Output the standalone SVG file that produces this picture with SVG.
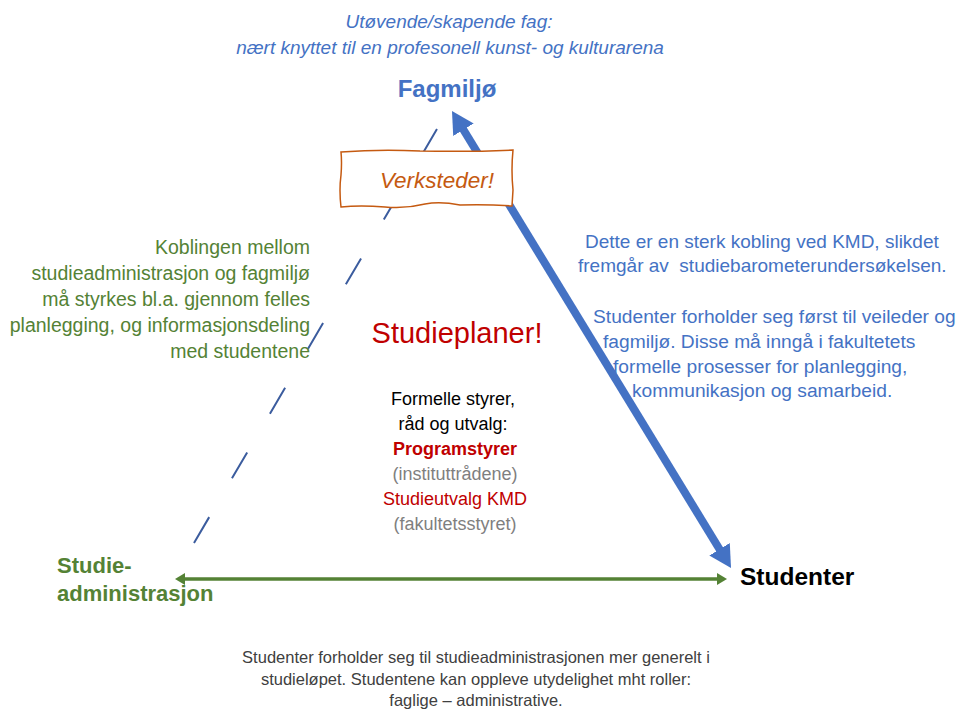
<svg xmlns="http://www.w3.org/2000/svg" width="968" height="709" viewBox="0 0 968 709">
<style>
  text { font-family: "Liberation Sans", Arial, sans-serif; }
  .blue { fill: #4472C4; }
  .green { fill: #548235; }
  .red { fill: #C00000; }
  .grey { fill: #7F7F7F; }
  .dark { fill: #404040; }
  .it { font-style: italic; }
  .b { font-weight: bold; }
  .mid { text-anchor: middle; }
  .end { text-anchor: end; }
</style>
<defs>
  <marker id="blueHead" markerUnits="userSpaceOnUse" viewBox="0 0 22 24" markerWidth="22" markerHeight="24" refX="12" refY="12" orient="auto-start-reverse">
    <path d="M0,0 L22,12 L0,24 z" fill="#4472C4"/>
  </marker>
  <marker id="greenHead" markerUnits="userSpaceOnUse" viewBox="0 0 10 12" markerWidth="10" markerHeight="12" refX="6" refY="6" orient="auto-start-reverse">
    <path d="M0,0 L10,6 L0,12 z" fill="#548235"/>
  </marker>
</defs>
<rect width="968" height="709" fill="#ffffff"/>

<g id="connectors">
  <line id="dashed-admin-fag" x1="194" y1="543" x2="437" y2="129" stroke="#3B5C9E" stroke-width="2" stroke-dasharray="30 45"/>
  <line id="fag-studenter" x1="457.2" y1="119.5" x2="725.8" y2="559.5" stroke="#4472C4" stroke-width="8" marker-start="url(#blueHead)" marker-end="url(#blueHead)"/>
  <line id="admin-studenter" x1="179" y1="579" x2="723" y2="579" stroke="#548235" stroke-width="3.5" marker-start="url(#greenHead)" marker-end="url(#greenHead)"/>
</g>

<g id="header">
  <text class="blue it mid" x="449" y="28" font-size="19">Utøvende/skapende fag:</text>
  <text class="blue it mid" x="450" y="54" font-size="19">nært knyttet til en profesonell kunst- og kulturarena</text>
</g>

<g id="fagmiljo">
  <text class="blue b mid" x="447" y="97" font-size="24">Fagmiljø</text>
</g>

<g id="verksteder">
  <path d="M341,152 Q380,149 420,151 Q470,152 513,150 Q511,170 513,190 L512,206 Q485,204 460,205 Q440,201 425,204 Q405,209 385,207 Q360,205 341,207 Q339,190 341,175 Q342,162 341,152 Z" fill="#ffffff" stroke="#C55A11" stroke-width="1.5"/>
  <text x="437" y="188" font-size="22.5" class="it mid" fill="#C55A11">Verksteder!</text>
</g>

<g id="kobling-note">
  <text class="green end" x="310" y="254" font-size="19.5">Koblingen mellom</text>
  <text class="green end" x="310" y="280" font-size="19.5">studieadministrasjon og fagmiljø</text>
  <text class="green end" x="310" y="306" font-size="19.5">må styrkes bl.a. gjennom felles</text>
  <text class="green end" x="310" y="332" font-size="19.5">planlegging, og informasjonsdeling</text>
  <text class="green end" x="310" y="358" font-size="19.5">med studentene</text>
</g>

<g id="kmd-note">
  <text class="blue" x="585" y="248" font-size="19">Dette er en sterk kobling ved KMD, slikdet</text>
  <text class="blue" x="578" y="272" font-size="19" style="white-space:pre">fremgår av  studiebarometerundersøkelsen.</text>
  <text class="blue" x="593" y="323" font-size="19.2">Studenter forholder seg først til veileder og</text>
  <text class="blue" x="603" y="348" font-size="19.2">fagmiljø. Disse må inngå i fakultetets</text>
  <text class="blue" x="613" y="373" font-size="19.2">formelle prosesser for planlegging,</text>
  <text class="blue" x="632" y="397" font-size="19.2">kommunikasjon og samarbeid.</text>
</g>

<g id="studieplaner">
  <text class="red mid" x="457" y="343" font-size="29">Studieplaner!</text>
  <text class="mid" x="453" y="405" font-size="18" fill="#000000">Formelle styrer,</text>
  <text class="mid" x="453" y="430" font-size="18" fill="#000000">råd og utvalg:</text>
  <text class="red b mid" x="455" y="455" font-size="18">Programstyrer</text>
  <text class="grey mid" x="455" y="480" font-size="18">(instituttrådene)</text>
  <text class="red mid" x="455" y="505" font-size="18">Studieutvalg KMD</text>
  <text class="grey mid" x="455" y="530" font-size="18">(fakultetsstyret)</text>
</g>

<g id="studieadministrasjon">
  <text class="green b" x="57" y="573" font-size="22">Studie-</text>
  <text class="green b" x="57" y="601" font-size="22">administrasjon</text>
</g>

<g id="studenter">
  <text class="b" x="740" y="585" font-size="24.5" fill="#000000">Studenter</text>
</g>

<g id="bottom-note">
  <text class="dark mid" x="476" y="663" font-size="16.5">Studenter forholder seg til studieadministrasjonen mer generelt i</text>
  <text class="dark mid" x="476" y="685" font-size="16.5">studieløpet. Studentene kan oppleve utydelighet mht roller:</text>
  <text class="dark mid" x="476" y="706" font-size="16.5">faglige – administrative.</text>
</g>
</svg>
